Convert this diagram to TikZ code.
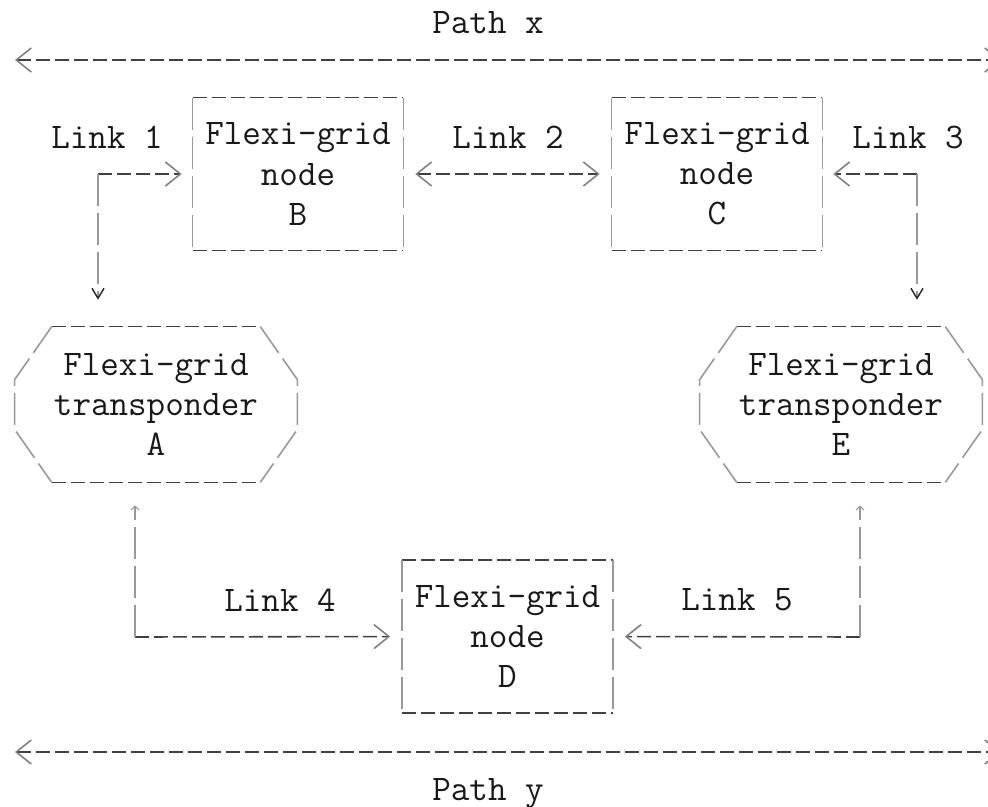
\documentclass[tikz,border=0pt]{standalone}
\usepackage{fontspec}
\usepackage{tikz}
\usetikzlibrary{arrows.meta}
\usetikzlibrary{calc}

\newcommand{\asciifont}{\ttfamily\fontsize{20.5}{22.8}\selectfont}
% edges of a node drawn like ascii art
\newcommand{\boxedges}[1]{%
  \draw[hrule] (#1.north west) -- (#1.north east) (#1.south west) -- (#1.south east);
  \draw[vrule] (#1.north west) -- (#1.south west) (#1.north east) -- (#1.south east);}
\newcommand{\hexedges}[1]{%
  \draw[hrule] ($(#1.north west)+(37,0)$) -- ($(#1.north east)+(-37,0)$)
    ($(#1.south west)+(37,0)$) -- ($(#1.south east)+(-37,0)$);
  \draw[vrule] ($(#1.north west)+(37,0)$) -- ($(#1.west)+(0,-25)$) -- ($(#1.west)+(0,25)$) -- ($(#1.south west)+(37,0)$)
    ($(#1.north east)+(-37,0)$) -- ($(#1.east)+(0,-25)$) -- ($(#1.east)+(0,25)$) -- ($(#1.south east)+(-37,0)$);}

\tikzset{
  hrule/.style={draw=black!75,line width=0.9pt,dash pattern=on 0.28cm off 0.1cm},
  vrule/.style={draw=black!40,line width=0.9pt,dash pattern=on 0.64cm off 0.14cm},
  gridnode/.style={minimum width=4.2cm,minimum height=3.04cm,inner sep=0pt,align=center,font=\asciifont,text=black!90},
  transp/.style={gridnode,minimum width=5.64cm,minimum height=3.1cm},
  lbl/.style={font=\asciifont,text=black!90,inner sep=0pt},
  chev/.tip={Straight Barb[length=0.3cm,width=0.48cm,line width=0.9pt,color=black!50]},
  vee/.tip={Straight Barb[length=0.2cm,width=0.24cm,line width=0.8pt,color=black!85]},
  hat/.tip={Straight Barb[length=0.08cm,width=0.16cm,line width=0.6pt,color=black!40]},
}

\begin{document}
\begin{tikzpicture}[x=0.02cm,y=-0.02cm]
\useasboundingbox (0,0) rectangle (988,806);

% paths x and y
\coordinate (xw) at (15,60);
\coordinate (xe) at (1001,60);
\coordinate (yw) at (15,752);
\coordinate (ye) at (1001,752);
\node[lbl,anchor=base] (pathx) at (488,33) {Path x};
\node[lbl,anchor=base] (pathy) at (488,800) {Path y};
\draw[hrule,chev-chev] (xw) -- (xe);
\draw[hrule,chev-chev] (yw) -- (ye);

% nodes and transponders
\node[gridnode] (B) at (298,174) {Flexi-grid\\node\\B};
\node[gridnode] (C) at (717,174) {Flexi-grid\\node\\C};
\node[gridnode] (D) at (507.5,636.5) {Flexi-grid\\node\\D};
\node[transp] (A) at (156,404.5) {Flexi-grid\\transponder\\A};
\node[transp] (E) at (841,404.5) {Flexi-grid\\transponder\\E};
\boxedges{B} \boxedges{C} \boxedges{D}
\hexedges{A} \hexedges{E}

% links
\coordinate (k1) at (98,174);
\coordinate (k3) at (917,174);
\coordinate (k4) at (135,637);
\coordinate (k5) at (860,637);
\node[lbl] (link1) at (107,137) {Link 1};
\node[lbl] (link2) at (508,137) {Link 2};
\node[lbl] (link3) at (908,137) {Link 3};
\node[lbl] (link4) at (280,600) {Link 4};
\node[lbl] (link5) at (737,600) {Link 5};

\draw[hrule,shorten >=0.22cm,-chev] (k1) -- (B.west);
\draw[vrule,shorten >=0.54cm,-vee] (k1) -- (A.north -| k1);
\draw[hrule,shorten <=0.24cm,shorten >=0.24cm,chev-chev] (B.east) -- (C.west);
\draw[hrule,shorten >=0.22cm,-chev] (k3) -- (C.east);
\draw[vrule,shorten >=0.54cm,-vee] (k3) -- (E.north -| k3);
\draw[hrule,shorten >=0.24cm,-chev] (k4) -- (D.west);
\draw[vrule,shorten >=0.46cm,-hat] (k4) -- (A.south -| k4);
\draw[hrule,shorten >=0.24cm,-chev] (k5) -- (D.east);
\draw[vrule,shorten >=0.46cm,-hat] (k5) -- (E.south -| k5);
\end{tikzpicture}
\end{document}
